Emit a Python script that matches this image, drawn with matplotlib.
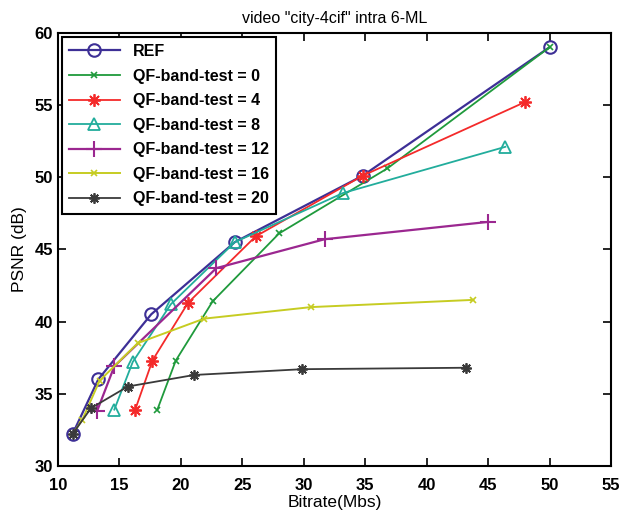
import matplotlib.pyplot as plt

plt.rcParams['font.family'] = ['Liberation Sans', 'DejaVu Sans']

# Bitrate (Mbs) / PSNR (dB)
ref_x = [11.2, 13.3, 17.6, 24.4, 34.8, 50.0]
ref_y = [32.2, 36.0, 40.5, 45.5, 50.1, 59.0]

qf0_x = [18.1, 19.6, 22.6, 28.0, 36.8, 50.0]
qf0_y = [33.9, 37.3, 41.4, 46.1, 50.6, 59.0]

qf4_x = [16.3, 17.7, 20.6, 26.1, 34.8, 48.0]
qf4_y = [33.9, 37.3, 41.3, 45.9, 50.1, 55.2]

qf8_x = [14.6, 16.1, 19.2, 24.4, 33.2, 46.4]
qf8_y = [33.9, 37.2, 41.2, 45.5, 48.9, 52.1]

qf12_x = [13.2, 14.6, 22.9, 31.7, 45.0]
qf12_y = [33.8, 36.9, 43.7, 45.7, 46.9]

qf16_x = [11.2, 12.0, 13.4, 16.5, 21.9, 30.6, 43.8]
qf16_y = [32.2, 33.2, 35.9, 38.5, 40.2, 41.0, 41.5]

qf20_x = [11.2, 12.7, 15.7, 21.1, 29.9, 43.2]
qf20_y = [32.2, 34.0, 35.5, 36.3, 36.7, 36.8]

star = (8, 2, 0)  # matlab-ish asterisk

fig = plt.figure(figsize=(6.21, 5.12), dpi=100)
ax = fig.add_axes([0.093, 0.090, 0.891, 0.846])

ax.plot(ref_x, ref_y, color='#3d2f96', marker='o', ms=9, mfc='none', mew=1.5, lw=1.6, label='REF')
ax.plot(qf0_x, qf0_y, color='#1f9a3c', marker='x', ms=5, mew=1.2, lw=1.3, label='QF-band-test = 0')
ax.plot(qf4_x, qf4_y, color='#f42a2a', marker=star, ms=9, mew=1.3, lw=1.3, label='QF-band-test = 4')
ax.plot(qf8_x, qf8_y, color='#22ad9c', marker='^', ms=9, mfc='none', mew=1.3, lw=1.3, label='QF-band-test = 8')
ax.plot(qf12_x, qf12_y, color='#9b2790', marker='+', ms=12, mew=1.5, lw=1.6, label='QF-band-test = 12')
ax.plot(qf16_x, qf16_y, color='#c6cc22', marker='x', ms=5, mew=1.2, lw=1.4, label='QF-band-test = 16')
ax.plot(qf20_x, qf20_y, color='#3a3a3a', marker=star, ms=7.5, mew=1.3, lw=1.3, label='QF-band-test = 20')

ax.set_xlim(10, 55)
ax.set_ylim(30, 60)
ax.set_xticks(range(10, 56, 5))
ax.set_yticks(range(30, 61, 5))
ax.tick_params(direction='in', top=True, right=True, length=6, width=1.2, labelsize=12)
ax.tick_params(axis='x', pad=9)
for lab in ax.get_xticklabels() + ax.get_yticklabels():
    lab.set_fontweight('bold')
for s in ax.spines.values():
    s.set_linewidth(1.5)

ax.set_title('video "city-4cif" intra 6-ML', fontsize=11.5, pad=7)
ax.set_xlabel('Bitrate(Mbs)', fontsize=12.5, labelpad=1)
ax.set_ylabel('PSNR (dB)', fontsize=12.5, labelpad=5)

leg = ax.legend(loc='upper left', fancybox=False, edgecolor='black', framealpha=1,
                prop={'size': 11.5, 'weight': 'bold'}, handlelength=3.2,
                borderaxespad=0.25, labelspacing=0.6, borderpad=0.45)
leg.get_frame().set_linewidth(1.5)

plt.savefig('out.png', dpi=100)
